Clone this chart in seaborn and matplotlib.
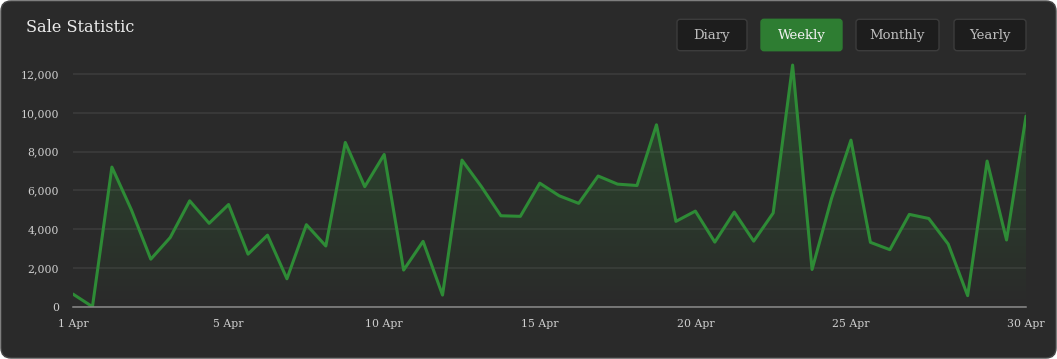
import numpy as np
import pandas as pd
import matplotlib
matplotlib.use("Agg")
import matplotlib.pyplot as plt
import seaborn as sns
from matplotlib.patches import FancyBboxPatch, Polygon
from matplotlib.colors import LinearSegmentedColormap
from matplotlib.ticker import FuncFormatter

# --- data ---
sales = [650, 0, 7200, 5000, 2450, 3570, 5460, 4300, 5270, 2710,
         3690, 1440, 4230, 3130, 8470, 6190, 7850, 1890, 3370, 600,
         7560, 6190, 4690, 4660, 6370, 5720, 5330, 6740, 6320, 6250,
         9380, 4400, 4930, 3330, 4880, 3380, 4830, 12460, 1920, 5580,
         8590, 3320, 2940, 4760, 4550, 3230, 570, 7510, 3440, 9830]
tick_pos = [0, 8, 16, 24, 32, 40, 49]
tick_labels = ["1 Apr", "5 Apr", "10 Apr", "15 Apr", "20 Apr", "25 Apr", "30 Apr"]
y_ticks = [0, 2000, 4000, 6000, 8000, 10000, 12000]
buttons = ["Diary", "Weekly", "Monthly", "Yearly"]
active = "Weekly"

df = pd.DataFrame({"idx": range(len(sales)), "sales": sales})

# --- style ---
sns.set_style("dark")
plt.rcParams["font.family"] = ["DejaVu Serif"]

W, H = 1057, 359
BG = "#2a2a2a"
GREEN = "#2e8b36"
TXT = "#cfcfcf"

fig = plt.figure(figsize=(W / 100, H / 100), dpi=100)
fig.patch.set_facecolor("white")

# card background with rounded corners (behind everything)
card = FancyBboxPatch((1, 1), W - 2, H - 2, boxstyle="round,pad=0,rounding_size=10",
                      transform=None, facecolor=BG, edgecolor="#474747", linewidth=1,
                      zorder=-10)
fig.patches.append(card)

# axes placement in pixels
x0, x1 = 73, 1026
y_zero = 306.7
px_per = 232.7 / 12000
ymax = 12650
ax = fig.add_axes([x0 / W, (H - y_zero) / H, (x1 - x0) / W, ymax * px_per / H])
ax.set_facecolor("none")
ax.set_zorder(1)

sns.lineplot(data=df, x="idx", y="sales", ax=ax, color=GREEN, linewidth=2.2, zorder=3)

# gradient fill under the line
xs = df["idx"].to_numpy()
ys = df["sales"].to_numpy()
verts = [(xs[0], 0)] + list(zip(xs, ys)) + [(xs[-1], 0)]
poly = Polygon(verts, closed=True, facecolor="none", edgecolor="none")
ax.add_patch(poly)
cmap = LinearSegmentedColormap.from_list(
    "g", [(0.18, 0.55, 0.21, 0.0), (0.18, 0.55, 0.21, 0.38)])
grad = np.linspace(0, 1, 256).reshape(-1, 1)
im = ax.imshow(grad, cmap=cmap, origin="lower", aspect="auto",
               extent=[xs[0], xs[-1], 0, ymax], zorder=2)
im.set_clip_path(poly)

ax.set_xlim(xs[0], xs[-1])
ax.set_ylim(0, ymax)
ax.set_xlabel("")
ax.set_ylabel("")

ax.set_yticks(y_ticks)
ax.yaxis.set_major_formatter(FuncFormatter(lambda v, p: f"{int(v):,}"))
ax.set_xticks(tick_pos)
ax.set_xticklabels(tick_labels)
ax.grid(axis="y", color="#3d3d3d", linewidth=1.1, zorder=0)
ax.grid(axis="x", visible=False)
for s in ["top", "right", "left"]:
    ax.spines[s].set_visible(False)
ax.spines["bottom"].set_color("#8a8a8a")
ax.spines["bottom"].set_linewidth(1.1)
ax.spines["bottom"].set_zorder(4)
ax.tick_params(axis="x", colors="#8a8a8a", length=4.5, width=1.1, pad=4,
               labelcolor=TXT, labelsize=7.8)
ax.tick_params(axis="y", length=0, pad=10, labelcolor=TXT, labelsize=7.8)

# title
fig.text(26 / W, 1 - 27 / H, "Sale Statistic", color="#ececec", fontsize=11.6,
         ha="left", va="center")

# buttons
boxes = [(677, 747), (761, 842), (856, 939), (954, 1026)]
by0, by1 = 19.3, 50.7
for name, (bx0, bx1) in zip(buttons, boxes):
    on = name == active
    b = FancyBboxPatch((bx0, H - by1), bx1 - bx0, by1 - by0,
                       boxstyle="round,pad=0,rounding_size=3", transform=None,
                       facecolor="#2e7d32" if on else "#1d1d1d",
                       edgecolor="#2e7d32" if on else "#3c3c3c", linewidth=1)
    fig.patches.append(b)
    fig.text((bx0 + bx1) / 2 / W, 1 - (by0 + by1) / 2 / H, name,
             color="#f2f2f2" if on else "#bdbdbd", fontsize=9.5,
             ha="center", va="center")

fig.savefig("out.png", dpi=100, facecolor=fig.get_facecolor())
